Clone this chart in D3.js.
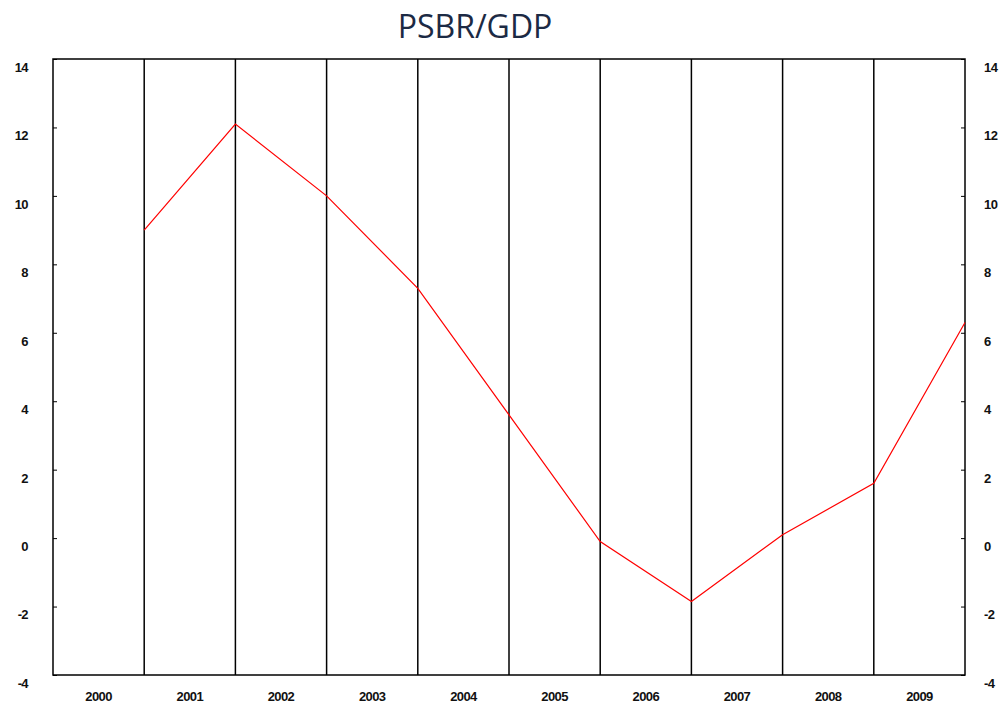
<!DOCTYPE html>
<html>
<head>
<meta charset="utf-8">
<script src="https://cdn.jsdelivr.net/npm/d3@7"></script>
<style>
  body { margin: 0; background: #fff; }
  .tick text { font-family: "Liberation Sans", sans-serif; font-size: 13px; font-weight: bold; letter-spacing: -0.6px; fill: #111; }
</style>
</head>
<body>
<div id="chart"></div>
<script>
// data
var years = ["2000", "2001", "2002", "2003", "2004", "2005", "2006", "2007", "2008", "2009"];
var psbr = [9.0, 12.1, 10.0, 7.3, 3.6, -0.1, -1.85, 0.1, 1.6, 6.3];
var yTicks = [-4, -2, 0, 2, 4, 6, 8, 10, 12, 14];

var width = 1000, height = 706;
var margin = {top: 59, right: 35, bottom: 31, left: 53};
var w = width - margin.left - margin.right;
var h = height - margin.top - margin.bottom;

var svg = d3.select("#chart").append("svg")
    .attr("width", width)
    .attr("height", height);

// title
svg.append("text")
    .attr("x", 475)
    .attr("y", 38)
    .attr("text-anchor", "middle")
    .style("font-family", "'Open Sans', sans-serif")
    .style("font-size", "32px")
    .style("fill", "#1c2a44")
    .text("PSBR/GDP");

var g = svg.append("g").attr("transform", "translate(" + margin.left + "," + margin.top + ")");

var x = d3.scaleBand().domain(years).range([0, w]).padding(0);
var y = d3.scaleLinear().domain([-4, 14]).range([h, 0]);

// plain hyphen for negatives like the original
var fmt = function(d) { return String(d); };

// vertical separators between years
g.selectAll(".sep")
    .data(years.slice(0, -1))
    .enter().append("line")
    .attr("class", "sep")
    .attr("x1", function(d) { return x(d) + x.bandwidth(); })
    .attr("x2", function(d) { return x(d) + x.bandwidth(); })
    .attr("y1", 0)
    .attr("y2", h)
    .attr("stroke", "#000")
    .attr("stroke-width", 1.5);

// frame
g.append("rect")
    .attr("width", w)
    .attr("height", h)
    .attr("fill", "none")
    .attr("stroke", "#000")
    .attr("stroke-width", 1.5);

// left axis
var yLeft = g.append("g")
    .call(d3.axisLeft(y).tickValues(yTicks).tickFormat(fmt).tickSizeInner(-4).tickSizeOuter(0).tickPadding(25));
yLeft.select(".domain").remove();
yLeft.selectAll(".tick line").attr("stroke", "#000");
yLeft.selectAll(".tick text").attr("dy", "0.95em");

// right axis
var yRight = g.append("g")
    .attr("transform", "translate(" + w + ",0)")
    .call(d3.axisRight(y).tickValues(yTicks).tickFormat(fmt).tickSizeInner(-4).tickSizeOuter(0).tickPadding(19));
yRight.select(".domain").remove();
yRight.selectAll(".tick line").attr("stroke", "#000");
yRight.selectAll(".tick text").attr("dy", "0.95em");

// bottom axis
var xAxis = g.append("g")
    .attr("transform", "translate(0," + h + ")")
    .call(d3.axisBottom(x).tickSize(0).tickPadding(17));
xAxis.select(".domain").remove();

// line: value plotted at the right edge of each year
var line = d3.line()
    .x(function(d, i) { return x(years[i]) + x.bandwidth(); })
    .y(function(d) { return y(d); });

g.append("path")
    .datum(psbr)
    .attr("d", line)
    .attr("fill", "none")
    .attr("stroke", "#ff0000")
    .attr("stroke-width", 1.2);
</script>
</body>
</html>
